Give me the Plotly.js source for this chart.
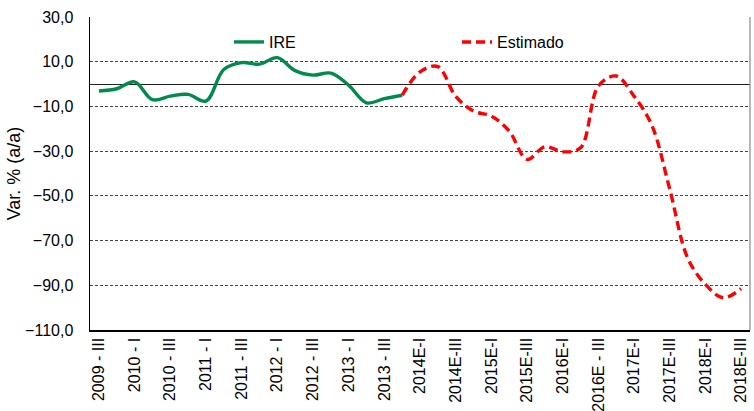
<!DOCTYPE html>
<html>
<head>
<meta charset="utf-8">
<script src="https://cdn.plot.ly/plotly-3.0.1.min.js"></script>
<style>html,body{margin:0;padding:0;background:#fff;}#chart{width:754px;height:411px;}</style>
</head>
<body>
<div id="chart"></div>
<script>
var quarters = ["2009 - III","2009 - IV","2010 - I","2010 - II","2010 - III","2010 - IV","2011 - I","2011 - II","2011 - III","2011 - IV","2012 - I","2012 - II","2012 - III","2012 - IV","2013 - I","2013 - II","2013 - III","2013 - IV","2014E-I","2014E-II","2014E-III","2014E-IV","2015E-I","2015E-II","2015E-III","2015E-IV","2016E-I","2016E-II","2016E - III","2016E-IV","2017E-I","2017E-II","2017E-III","2017E-IV","2018E-I","2018E-II","2018E-III"];
var ireQuarters = quarters.slice(0, 18);
var ireValues = [-3.1, -2.1, 1.0, -7.0, -5.4, -4.6, -7.6, 6.5, 9.6, 8.9, 11.8, 6.0, 4.0, 4.9, -0.5, -8.4, -6.5, -5.0];
var estQuarters = quarters.slice(17);
var estValues = [-5.0, 5.5, 7.8, -5.5, -12.1, -14.3, -21.0, -33.7, -28.0, -30.3, -28.5, -0.9, 3.6, -5.4, -18.5, -47.0, -77.7, -89.6, -95.6, -91.5];
var tickLabels = quarters.filter(function(q, i){ return i % 2 === 0; });
var yTicks = [30, 10, -10, -30, -50, -70, -90, -110];

var font = "Liberation Sans, Arial, sans-serif";
var traces = [
  {x: ireQuarters, y: ireValues, name: "IRE", type: "scatter", mode: "lines",
   line: {color: "#008A4B", width: 3.4, shape: "spline", smoothing: 1}, legend: "legend"},
  {x: estQuarters, y: estValues, name: "Estimado", type: "scatter", mode: "lines",
   line: {color: "#FF0000", width: 3.4, shape: "spline", smoothing: 1, dash: "9px,5px"}, legend: "legend2"}
];
var layout = {
  width: 754, height: 411,
  margin: {l: 90, r: 4, t: 17, b: 81},
  paper_bgcolor: "#fff", plot_bgcolor: "#fff",
  separators: ",.",
  font: {family: font, size: 16, color: "#000"},
  xaxis: {
    type: "category", categoryorder: "array", categoryarray: quarters,
    range: [-0.5, quarters.length - 0.5],
    tickmode: "array", tickvals: tickLabels, ticktext: tickLabels,
    tickangle: -90, tickfont: {size: 16, family: font, color: "#000"},
    showgrid: false, zeroline: false,
    showline: true, linecolor: "#000", linewidth: 1.5,
    ticks: "", fixedrange: true
  },
  yaxis: {
    range: [-110, 30], tickmode: "array", tickvals: yTicks, tickformat: ".1f",
    tickfont: {size: 16, family: font, color: "#000"},
    ticklabelstandoff: 12,
    showgrid: true, gridcolor: "#444", gridwidth: 1, griddash: "3px,2px",
    zeroline: true, zerolinecolor: "#222", zerolinewidth: 1,
    showline: true, linecolor: "#000", linewidth: 1.5,
    ticks: "", ticklen: 0,
    title: {text: "Var. % (a/a)", font: {size: 18, family: font, color: "#000"}, standoff: 0},
    fixedrange: true
  },
  shapes: [
    {type: "line", xref: "paper", yref: "paper", x0: 1, x1: 1, y0: 0, y1: 1, line: {color: "#888", width: 1.2}}
  ],
  legend: {x: (229 - 90) / 660, xanchor: "left", y: 0.92, yanchor: "middle", orientation: "h",
           bgcolor: "rgba(0,0,0,0)", borderwidth: 0, itemwidth: 30, font: {size: 16, family: font, color: "#000"}},
  legend2: {x: (457 - 90) / 660, xanchor: "left", y: 0.92, yanchor: "middle", orientation: "h",
           bgcolor: "rgba(0,0,0,0)", borderwidth: 0, itemwidth: 30, font: {size: 16, family: font, color: "#000"}},
  showlegend: true
};
Plotly.newPlot("chart", traces, layout, {displayModeBar: false, staticPlot: true});
</script>
</body>
</html>
